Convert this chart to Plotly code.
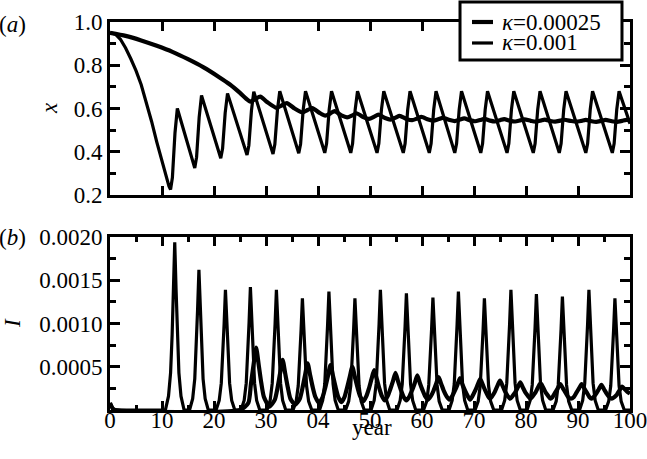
import plotly.graph_objects as go

# ---------------- data ----------------
SERIES_NAMES = ["<i>κ</i>=0.00025", "<i>κ</i>=0.001"]

# panel (a): x versus year, kappa = 0.00025
YEAR_X_K1 = [0, 3, 6, 9, 12, 15, 18, 21, 23, 25, 26.2, 27.0, 28.0, 28.9, 30.2, 32.0, 33.1, 34.0,
             35.5, 37.0, 38.0, 38.9, 40.3, 41.4, 42.4, 43.2, 44.5, 45.6, 46.6, 47.4, 48.7, 49.8,
             50.8, 51.6, 52.9, 53.9, 54.9, 55.7, 57.0, 58.1, 59.1, 59.9, 61.2, 62.2, 63.2, 64.0,
             65.3, 66.3, 67.3, 68.1, 69.3, 70.2, 71.2, 72.0, 73.1, 74.0, 75.0, 75.8, 77.0, 77.9,
             78.9, 79.7, 80.9, 81.8, 82.8, 83.6, 84.7, 85.6, 86.6, 87.4, 88.7, 89.7, 90.7, 91.5,
             92.6, 93.5, 94.5, 95.3, 96.5, 97.5, 98.5, 99.3, 100]
X_K1 = [0.95, 0.936, 0.915, 0.89, 0.862, 0.828, 0.79, 0.745, 0.712, 0.672, 0.645, 0.632, 0.645,
        0.655, 0.63, 0.603, 0.615, 0.625, 0.6, 0.582, 0.593, 0.602, 0.58, 0.567, 0.578, 0.588,
        0.568, 0.559, 0.568, 0.578, 0.56, 0.552, 0.562, 0.572, 0.556, 0.549, 0.558, 0.566, 0.552,
        0.546, 0.554, 0.561, 0.549, 0.544, 0.551, 0.557, 0.547, 0.542, 0.549, 0.554, 0.545, 0.541,
        0.547, 0.552, 0.544, 0.54, 0.546, 0.551, 0.543, 0.54, 0.545, 0.55, 0.543, 0.539, 0.544,
        0.549, 0.542, 0.539, 0.544, 0.548, 0.542, 0.539, 0.543, 0.547, 0.541, 0.538, 0.543,
        0.547, 0.541, 0.538, 0.543, 0.547, 0.545]

# panel (a): x versus year, kappa = 0.001
YEAR_X_K2 = [0, 1, 2, 3, 4, 5, 6, 7, 8, 9, 10, 10.9, 11.35, 11.65,
             12.0, 12.5, 12.95,
             16.3, 16.65, 17.15, 17.6,
             21.3, 21.65, 22.15, 22.6,
             26.35, 26.7, 27.2, 27.65,
             31.35, 31.7, 32.2, 32.65,
             36.3, 36.65, 37.15, 37.6,
             41.3, 41.65, 42.15, 42.6,
             46.3, 46.65, 47.15, 47.6,
             51.35, 51.7, 52.2, 52.65,
             56.4, 56.75, 57.25, 57.7,
             61.4, 61.75, 62.25, 62.7,
             66.3, 66.65, 67.15, 67.6,
             71.3, 71.65, 72.15, 72.6,
             76.35, 76.7, 77.2, 77.65,
             81.4, 81.75, 82.25, 82.7,
             86.4, 86.75, 87.25, 87.7,
             91.5, 91.85, 92.35, 92.8,
             96.6, 96.95, 97.45, 97.9,
             100]
X_K2 = [0.95, 0.945, 0.92, 0.88, 0.83, 0.775, 0.71, 0.63, 0.54, 0.445, 0.355, 0.275, 0.24, 0.225,
        0.281, 0.488, 0.60,
        0.325, 0.375, 0.56, 0.66,
        0.37, 0.415, 0.58, 0.67,
        0.385, 0.429, 0.59, 0.678,
        0.39, 0.434, 0.593, 0.68,
        0.393, 0.436, 0.594, 0.68,
        0.395, 0.438, 0.595, 0.68,
        0.395, 0.438, 0.595, 0.68,
        0.395, 0.438, 0.595, 0.68,
        0.395, 0.438, 0.595, 0.68,
        0.395, 0.438, 0.595, 0.68,
        0.395, 0.438, 0.595, 0.68,
        0.395, 0.438, 0.595, 0.68,
        0.395, 0.438, 0.595, 0.68,
        0.395, 0.438, 0.595, 0.68,
        0.395, 0.438, 0.595, 0.68,
        0.395, 0.438, 0.595, 0.68,
        0.395, 0.438, 0.595, 0.68,
        0.53]

# panel (b): I versus year (values in units of 1e-5)
I_UNIT = 1e-5
YEAR_I_K1 = [0, 0.5, 1.0, 25.0,
             26.6, 27.1, 27.6, 28.1, 28.6, 29.1, 29.6, 30.65,
             31.7, 32.2, 32.7, 33.2, 33.7, 34.2, 34.7, 35.6,
             36.5, 37.0, 37.5, 38.0, 38.5, 39.0, 39.5, 40.2,
             40.9, 41.4, 41.9, 42.4, 42.9, 43.4, 43.9, 44.5,
             45.1, 45.6, 46.1, 46.6, 47.1, 47.6, 48.1, 48.7,
             49.3, 49.8, 50.3, 50.8, 51.3, 51.8, 52.3, 52.85,
             53.4, 53.9, 54.4, 54.9, 55.4, 55.9, 56.4, 57.0,
             57.6, 58.1, 58.6, 59.1, 59.6, 60.1, 60.6, 61.15,
             61.7, 62.2, 62.7, 63.2, 63.7, 64.2, 64.7, 65.25,
             65.8, 66.3, 66.8, 67.3, 67.8, 68.3, 68.8, 69.25,
             69.7, 70.2, 70.7, 71.2, 71.7, 72.2, 72.7, 73.1,
             73.5, 74.0, 74.5, 75.0, 75.5, 76.0, 76.5, 76.95,
             77.4, 77.9, 78.4, 78.9, 79.4, 79.9, 80.4, 80.85,
             81.3, 81.8, 82.3, 82.8, 83.3, 83.8, 84.3, 84.7,
             85.1, 85.6, 86.1, 86.6, 87.1, 87.6, 88.1, 88.65,
             89.2, 89.7, 90.2, 90.7, 91.2, 91.7, 92.2, 92.6,
             93.0, 93.5, 94.0, 94.5, 95.0, 95.5, 96.0, 96.5,
             97.0, 97.5, 98.0, 98.5, 99.0, 99.5, 100]
I_K1 = [8, 2, 0, 0,
        8, 30, 52, 72, 52, 31, 15, 4,
        12, 25, 42, 58, 42, 26, 13, 6,
        13, 25, 40, 54, 40, 26, 15, 8,
        15, 26, 39, 52, 39, 26, 15, 9,
        15, 26, 38, 50, 38, 26, 16, 10,
        16, 25, 36, 46, 36, 25, 16, 11,
        16, 24, 33, 43, 33, 24, 16, 11,
        16, 23, 31, 40, 31, 23, 16, 12,
        16, 22, 30, 38, 30, 22, 16, 12,
        16, 22, 29, 37, 29, 22, 16, 12,
        16, 22, 29, 36, 29, 22, 16, 13,
        16, 21, 28, 34, 28, 21, 16, 13,
        16, 20, 26, 32, 26, 20, 16, 13,
        16, 20, 26, 31, 26, 20, 16, 13,
        15, 20, 25, 30, 25, 20, 15, 13,
        15, 20, 25, 30, 25, 20, 15, 13,
        15, 19, 24, 29, 24, 19, 15, 13,
        15, 18, 23, 27, 24, 21, 19]

YEAR_I_K2 = [0, 0.5, 1.0,
             10.65, 11.25, 11.65, 11.95, 12.2, 12.45, 12.7, 12.95, 13.25, 13.65, 14.25,
             15.3, 15.9, 16.3, 16.6, 16.85, 17.1, 17.35, 17.6, 17.9, 18.3, 18.9,
             20.4, 21.0, 21.4, 21.7, 21.95, 22.2, 22.45, 22.7, 23.0, 23.4, 24.0,
             25.2, 25.8, 26.2, 26.5, 26.75, 27.0, 27.25, 27.5, 27.8, 28.2, 28.8,
             30.2, 30.8, 31.2, 31.5, 31.75, 32.0, 32.25, 32.5, 32.8, 33.2, 33.8,
             35.2, 35.8, 36.2, 36.5, 36.75, 37.0, 37.25, 37.5, 37.8, 38.2, 38.8,
             40.3, 40.9, 41.3, 41.6, 41.85, 42.1, 42.35, 42.6, 42.9, 43.3, 43.9,
             45.3, 45.9, 46.3, 46.6, 46.85, 47.1, 47.35, 47.6, 47.9, 48.3, 48.9,
             50.2, 50.8, 51.2, 51.5, 51.75, 52.0, 52.25, 52.5, 52.8, 53.2, 53.8,
             55.2, 55.8, 56.2, 56.5, 56.75, 57.0, 57.25, 57.5, 57.8, 58.2, 58.8,
             60.3, 60.9, 61.3, 61.6, 61.85, 62.1, 62.35, 62.6, 62.9, 63.3, 63.9,
             65.2, 65.8, 66.2, 66.5, 66.75, 67.0, 67.25, 67.5, 67.8, 68.2, 68.8,
             70.2, 70.8, 71.2, 71.5, 71.75, 72.0, 72.25, 72.5, 72.8, 73.2, 73.8,
             75.3, 75.9, 76.3, 76.6, 76.85, 77.1, 77.35, 77.6, 77.9, 78.3, 78.9,
             80.2, 80.8, 81.2, 81.5, 81.75, 82.0, 82.25, 82.5, 82.8, 83.2, 83.8,
             85.2, 85.8, 86.2, 86.5, 86.75, 87.0, 87.25, 87.5, 87.8, 88.2, 88.8,
             90.3, 90.9, 91.3, 91.6, 91.85, 92.1, 92.35, 92.6, 92.9, 93.3, 93.9,
             95.3, 95.9, 96.3, 96.6, 96.85, 97.1, 97.35, 97.6, 97.9, 98.3, 98.9,
             100]
I_K2 = [8, 2, 0,
        0, 16, 43, 87, 140, 194, 140, 87, 43, 16, 0,
        0, 13, 36, 73, 117, 162, 117, 73, 36, 13, 0,
        0, 11, 31, 63, 100, 139, 100, 63, 31, 11, 0,
        0, 11, 31, 64, 102, 142, 102, 64, 31, 11, 0,
        0, 11, 31, 63, 100, 139, 100, 63, 31, 11, 0,
        0, 10, 28, 58, 93, 129, 93, 58, 28, 10, 0,
        0, 11, 30, 62, 99, 137, 99, 62, 30, 11, 0,
        0, 10, 28, 58, 93, 129, 93, 58, 28, 10, 0,
        0, 11, 31, 63, 100, 139, 100, 63, 31, 11, 0,
        0, 11, 30, 61, 97, 135, 97, 61, 30, 11, 0,
        0, 10, 29, 59, 94, 130, 94, 59, 29, 10, 0,
        0, 11, 30, 62, 99, 137, 99, 62, 30, 11, 0,
        0, 10, 28, 58, 93, 129, 93, 58, 28, 10, 0,
        0, 11, 31, 63, 100, 139, 100, 63, 31, 11, 0,
        0, 11, 29, 60, 96, 134, 96, 60, 29, 11, 0,
        0, 10, 29, 59, 94, 131, 94, 59, 29, 10, 0,
        0, 11, 31, 63, 100, 139, 100, 63, 31, 11, 0,
        0, 10, 28, 58, 93, 129, 93, 58, 28, 10, 0,
        0]

# tick labels (note the "04" exactly as printed in the original)
YEAR_TICKS = [0, 10, 20, 30, 40, 50, 60, 70, 80, 90, 100]
YEAR_TICK_LABELS = ["0", "10", "20", "30", "04", "50", "60", "70", "80", "90", "100"]
X_TICKS = [0.2, 0.4, 0.6, 0.8, 1.0]
X_TICK_LABELS = ["0.2", "0.4", "0.6", "0.8", "1.0"]
I_TICKS = [0.0005, 0.0010, 0.0015, 0.0020]
I_TICK_LABELS = ["0.0005", "0.0010", "0.0015", "0.0020"]

# ---------------- figure ----------------
FONT = "Liberation Serif, Times New Roman, Times, serif"
BLACK = "#000000"
W_K1, W_K2 = 4.2, 3.2

fig = go.Figure()
fig.add_trace(go.Scatter(x=YEAR_X_K1, y=X_K1, mode="lines", name=SERIES_NAMES[0],
                         line=dict(color=BLACK, width=W_K1, shape="spline", smoothing=0.6),
                         xaxis="x", yaxis="y", showlegend=False))
fig.add_trace(go.Scatter(x=YEAR_X_K2, y=X_K2, mode="lines", name=SERIES_NAMES[1],
                         line=dict(color=BLACK, width=W_K2), xaxis="x", yaxis="y",
                         showlegend=False))
fig.add_trace(go.Scatter(x=YEAR_I_K1, y=[v * I_UNIT for v in I_K1], mode="lines",
                         name=SERIES_NAMES[0], showlegend=False,
                         line=dict(color=BLACK, width=W_K1, shape="spline", smoothing=0.6),
                         xaxis="x2", yaxis="y2"))
fig.add_trace(go.Scatter(x=YEAR_I_K2, y=[v * I_UNIT for v in I_K2], mode="lines",
                         name=SERIES_NAMES[1], showlegend=False,
                         line=dict(color=BLACK, width=W_K2), xaxis="x2", yaxis="y2"))

axis_common = dict(showline=True, linecolor=BLACK, linewidth=3, mirror="allticks",
                   ticks="inside", tickcolor=BLACK, tickwidth=2.5, showgrid=False,
                   zeroline=False, automargin=False, ticklabeloverflow="allow",
                   tickfont=dict(family=FONT, size=23, color=BLACK))

ann_font = dict(family=FONT, size=23, color=BLACK)

# hand-drawn legend box (paper coordinates), as in the original figure
LEG_X0, LEG_X1, LEG_Y0, LEG_Y1 = 0.6731, 0.9846, 0.9021, 1.0515
LEG_ROW_Y = [1.0, 0.9459]
LEG_LINE_X = [0.6962, 0.7365]
LEG_TEXT_X = 0.75

shapes = [dict(type="rect", xref="paper", yref="paper", x0=LEG_X0, x1=LEG_X1,
               y0=LEG_Y0, y1=LEG_Y1, line=dict(color=BLACK, width=3),
               fillcolor="white", layer="above")]
for ry, w in zip(LEG_ROW_Y, [W_K1, W_K2]):
    shapes.append(dict(type="line", xref="paper", yref="paper", x0=LEG_LINE_X[0],
                       x1=LEG_LINE_X[1], y0=ry, y1=ry, line=dict(color=BLACK, width=w),
                       layer="above"))

annotations = [
    dict(text="(<i>a</i>)", x=-0.1875, y=0.9923),
    dict(text="(<i>b</i>)", x=-0.1875, y=0.4433),
    dict(text="<i>x</i>", x=-0.1154, y=0.7784, textangle=-90),
    dict(text="<i>I</i>", x=-0.1885, y=0.2242, textangle=-90),
    dict(text="year", x=0.5038, y=-0.0451),
]
for a in annotations:
    a.update(xref="paper", yref="paper", showarrow=False, font=ann_font,
             xanchor="center", yanchor="middle")
for name, ry in zip(SERIES_NAMES, LEG_ROW_Y):
    annotations.append(dict(text=name, x=LEG_TEXT_X, y=ry, xref="paper", yref="paper",
                            showarrow=False, font=ann_font, xanchor="left",
                            yanchor="middle"))

fig.update_layout(
    width=647, height=459,
    paper_bgcolor="white", plot_bgcolor="white",
    margin=dict(l=110, r=17, t=22, b=49, autoexpand=False),
    font=dict(family=FONT, color=BLACK, size=23),
    showlegend=False,
    xaxis=dict(axis_common, domain=[0, 1], range=[0, 100], anchor="y",
               tickvals=YEAR_TICKS, showticklabels=False, ticklen=9),
    yaxis=dict(axis_common, domain=[0.5541, 1], range=[0.2, 1.0], anchor="x",
               tickvals=X_TICKS, ticktext=X_TICK_LABELS, ticklen=10,
               minor=dict(dtick=0.1, tick0=0.2, ticks="inside", ticklen=6,
                          tickcolor=BLACK, tickwidth=2.5, showgrid=False)),
    xaxis2=dict(axis_common, domain=[0, 1], range=[0, 100], anchor="y2",
                tickvals=YEAR_TICKS, ticktext=YEAR_TICK_LABELS, ticklen=9,
                ticklabelstandoff=-13,
                minor=dict(dtick=5, tick0=0, ticks="inside", ticklen=5,
                           tickcolor=BLACK, tickwidth=2.5, showgrid=False)),
    yaxis2=dict(axis_common, domain=[0, 0.4459], range=[0, 0.002], anchor="x2",
                tickvals=I_TICKS, ticktext=I_TICK_LABELS, ticklen=10,
                minor=dict(dtick=0.00025, tick0=0, ticks="inside", ticklen=6,
                           tickcolor=BLACK, tickwidth=2.5, showgrid=False)),
    shapes=shapes,
    annotations=annotations,
)

fig.write_html("out.html", config={"displayModeBar": False},
               post_script="document.body.style.margin='0px';document.body.style.padding='0px';")
